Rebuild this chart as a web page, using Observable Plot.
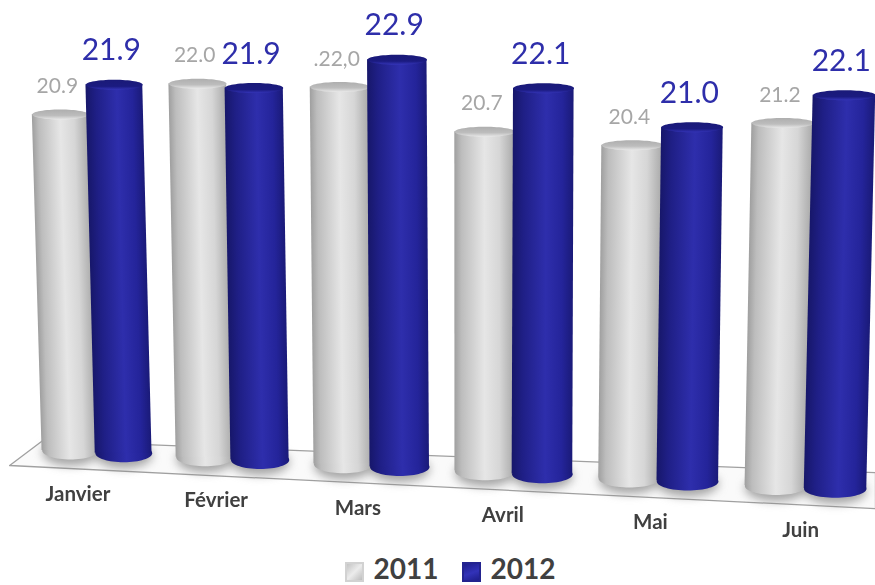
<!DOCTYPE html>
<html>
<head>
<meta charset="utf-8">
<script src="https://cdn.jsdelivr.net/npm/d3@7"></script>
<script src="https://cdn.jsdelivr.net/npm/@observablehq/plot@0.6"></script>
<style>
  html, body { margin: 0; padding: 0; background: #fff; }
  #chart svg { display: block; }
  #legend {
    height: 40px; display: flex; justify-content: center; align-items: center; gap: 10px;
    font: 700 28px/1 Lato, "Open Sans", sans-serif; color: #404040; padding: 5px 0 0 25px; box-sizing: border-box;
  }
  #legend i { display: inline-block; width: 19px; height: 20px; margin-top: 8px; box-sizing: border-box; }
  #legend i.a { background: linear-gradient(135deg, #c4c4c4, #ececec 50%, #bdbdbd); border: 2px solid #d2d2d2; }
  #legend i.b { background: linear-gradient(160deg, #1e1e8c, #3232b8 55%, #1e1e8c); border: 2px solid #23238f; margin-left: 13px; }
</style>
</head>
<body>
<div id="chart"></div>
<div id="legend"><i class="a"></i><span>2011</span><i class="b"></i><span>2012</span></div>
<script>
const months = ["Janvier", "Février", "Mars", "Avril", "Mai", "Juin"];
const values2011 = [20.9, 22.0, 22.0, 20.7, 20.4, 21.2];
const values2012 = [21.9, 21.9, 22.9, 22.1, 21.0, 22.1];
const labels2011 = ["20.9", "22.0", ".22,0", "20.7", "20.4", "21.2"];
const labels2012 = ["21.9", "21.9", "22.9", "22.1", "21.0", "22.1"];
const floorSlots = [4.34, 10.47, 10.47, 4.59, 4.34];
const floorLevels = [9.58, 8.19, 9.35, 10.38, 9.58];
const baseValue = 9.77;

// Table of cylinders, one row per month and year
const slot = (i) => i + 5;
const halfStep = 0.2;
const rows2011 = months.map((month, i) => ({month, s: slot(i), c: slot(i) - halfStep, a: slot(i) - 2 * halfStep, b: slot(i), v: values2011[i], t: labels2011[i]}));
const rows2012 = months.map((month, i) => ({month, s: slot(i), c: slot(i) + halfStep, a: slot(i), b: slot(i) + 2 * halfStep, v: values2012[i], t: labels2012[i]}));
// Month names fan out slightly more than the columns above them
const monthRows = months.map((month, i) => ({month, s: slot(i) + 0.019 * i}));
const floorRows = floorSlots.map((s, i) => ({s, v: floorLevels[i]}));

// Camera: the floor falls to the right, nearer columns grow and lean outward
const floorSlope = 0.05, growth = 7e-5, lean = 6.9e-5, originX = 70, vanishX = 490, girth = 1.5;
const shear = (c) => lean * (c - vanishX);
const stretch = (c) => 1 + growth * (c - originX);
const drop = (c) => floorSlope * (c - originX);
const project = (x, y, y0) => [x + shear(x) * (y0 - y), y0 + (y - y0) * stretch(x) + drop(x)];

const RX = 28;
const ellipse = (ry) => ({
  draw(ctx) {
    const k = 0.5523, rx = RX;
    ctx.moveTo(-rx, 0);
    ctx.bezierCurveTo(-rx, -k * ry, -k * rx, -ry, 0, -ry);
    ctx.bezierCurveTo(k * rx, -ry, rx, -k * ry, rx, 0);
    ctx.bezierCurveTo(rx, k * ry, k * rx, ry, 0, ry);
    ctx.bezierCurveTo(-k * rx, ry, -rx, k * ry, -rx, 0);
    ctx.closePath();
  }
});

// Render hooks that push each element through the camera
function tiltRects(index, scales, values, dims, ctx, next) {
  const g = next(index, scales, values, dims, ctx);
  const y0 = scales.y(baseValue);
  Array.from(g.children).forEach((el, k) => {
    const i = index[k], c = (values.x1[i] + values.x2[i]) / 2;
    const L = shear(c), sy = stretch(c);
    el.setAttribute("transform", `matrix(1,0,${-L},${sy},${L * y0},${y0 * (1 - sy) + drop(c)})`);
  });
  return g;
}
function tiltEllipses(index, scales, values, dims, ctx, next) {
  const g = next(index, scales, values, dims, ctx);
  const y0 = scales.y(baseValue);
  Array.from(g.children).forEach((el, k) => {
    const i = index[k], x = values.x[i];
    const s = scales.x.invert(x);
    const w = ((scales.x(s + halfStep) - scales.x(s - halfStep)) / 2 + girth) / RX;
    const [px, py] = project(x, values.y[i], y0);
    el.setAttribute("transform", `translate(${px},${py}) scale(${w},1)`);
  });
  return g;
}
function tiltTexts(index, scales, values, dims, ctx, next) {
  const g = next(index, scales, values, dims, ctx);
  const y0 = scales.y(baseValue);
  Array.from(g.children).forEach((el, k) => {
    const i = index[k];
    const [px, py] = project(values.x[i], values.y[i], y0);
    el.setAttribute("transform", `translate(${px},${py})`);
  });
  return g;
}

// Shared paint servers for the cylinder shading
const defs = () => {
  const svg = d3.create("svg:defs");
  const grad = (id, stops, vertical) => {
    const g = svg.append("linearGradient").attr("id", id).attr("x1", 0).attr("y1", 0)
      .attr("x2", vertical ? 0 : 1).attr("y2", vertical ? 1 : 0);
    stops.forEach(([o, c]) => g.append("stop").attr("offset", o).attr("stop-color", c));
  };
  grad("bodyGrey", [[0, "#9f9f9f"], [0.12, "#bdbdbd"], [0.5, "#e6e6e6"], [0.75, "#d6d6d6"], [1, "#a8a8a8"]]);
  grad("bodyBlue", [[0, "#17176a"], [0.18, "#1f1f86"], [0.55, "#2e2eac"], [0.82, "#24249a"], [1, "#1a1a78"]]);
  grad("capGrey", [[0, "#aeaeae"], [0.6, "#bdbdbd"], [1, "#e8e8e8"]], true);
  grad("capBlue", [[0, "#1a1a78"], [0.65, "#1b1b80"], [1, "#3434b8"]], true);
  return svg.node();
};

const cylinder = (rows, body, cap) => [
  Plot.dot(rows, {x: "c", y: () => baseValue, dy: -9, symbol: ellipse(9), fill: `url(#${body})`, stroke: "none", render: tiltEllipses}),
  Plot.rect(rows, {x1: "a", x2: "b", y1: () => baseValue, y2: "v", insetBottom: 9, insetLeft: -girth, insetRight: -girth, fill: `url(#${body})`, render: tiltRects}),
  Plot.dot(rows, {x: "c", y: "v", symbol: ellipse(5), fill: `url(#${cap})`, stroke: "none", render: tiltEllipses})
];

const chart = Plot.plot({
  width: 875,
  height: 545,
  margin: 0,
  x: {type: "pow", exponent: 1.15, domain: [4.27, 10.47], range: [0, 875], axis: null},
  y: {domain: [7, 24.58], range: [545, 0], axis: null},
  style: {background: "transparent"},
  marks: [
    defs,
    Plot.line(floorRows, {x: "s", y: "v", fill: "#fafafa", stroke: "#a0a0a0", strokeWidth: 1.3}),
    Plot.dot([...rows2011, ...rows2012], {x: "c", y: () => baseValue, dy: -7, symbol: ellipse(13), fill: "#808080", fillOpacity: 0.7, stroke: "none", imageFilter: "blur(5px)", render: tiltEllipses}),
    ...cylinder(rows2011, "bodyGrey", "capGrey"),
    ...cylinder(rows2012, "bodyBlue", "capBlue"),
    Plot.text(rows2011, {x: "c", y: "v", text: "t", dx: -3, dy: -28, fill: "#a6a6a6", fontSize: 21, fontFamily: "Lato, sans-serif", render: tiltTexts}),
    Plot.text(rows2012, {x: "c", y: "v", text: "t", dx: -3, dy: -34, fill: "#2e2eaa", fontSize: 30, fontFamily: "Lato, sans-serif", render: tiltTexts}),
    Plot.text(monthRows, {x: "s", y: () => baseValue, text: "month", dx: -19, dy: 33, fill: "#404040", fontSize: 20.5, fontWeight: 700, fontFamily: "Lato, sans-serif", render: tiltTexts})
  ]
});
document.getElementById("chart").append(chart);
</script>
</body>
</html>
